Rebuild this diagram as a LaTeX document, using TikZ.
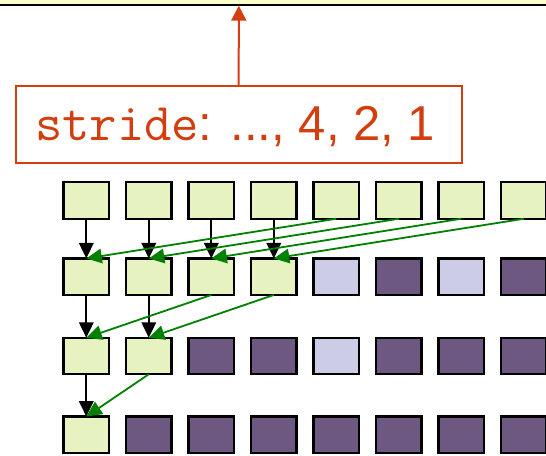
\documentclass[tikz,border=0pt]{standalone}
\usepackage{fontspec}
\setmainfont{Liberation Sans}
\usetikzlibrary{arrows.meta}

\definecolor{cellgreen}{RGB}{230,242,192}
\definecolor{celllight}{RGB}{204,204,230}
\definecolor{celldark}{RGB}{108,88,128}
\definecolor{bandyellow}{RGB}{255,255,204}
\definecolor{notered}{RGB}{210,62,14}
\definecolor{flowgreen}{RGB}{0,128,0}

\tikzset{
  cell/.style={draw=black, line width=2.2pt, minimum width=45.5pt, minimum height=36.5pt,
               inner sep=0pt, outer sep=0pt},
  live/.style={cell, fill=cellgreen},
  idle/.style={cell, fill=celllight},
  done/.style={cell, fill=celldark},
  keep/.style={draw=black, line width=2pt, -{Triangle[length=15.5pt, width=14.5pt]}},
  fold/.style={draw=flowgreen, line width=1.8pt, -{Triangle[length=15.5pt, width=14.5pt]}},
  notebox/.style={draw=notered, line width=2pt, minimum width=446pt,
               minimum height=77pt, inner sep=0pt},
  notetext/.style={text=notered, inner sep=0pt, font=\fontsize{49}{52}\selectfont},
  notearrow/.style={draw=notered, line width=2pt, -{Triangle[length=15pt, width=15pt]}}
}

\begin{document}
\begin{tikzpicture}[x=1pt, y=-1pt]
  \useasboundingbox (0,0) rectangle (546,455);
  \clip (0,0) rectangle (546,455);

  % band along the top edge
  \fill[bandyellow] (-2,-2) rectangle (548,4.8);
  \draw[line width=1.8pt] (-2,4.8) -- (548,4.8);
  \coordinate (band) at (238.8,5.7);

  % stride note
  \node[notebox] (stride) at (238.7,124.7) {};
  \node[notetext, anchor=base west] (stridetext) at (35,140.5)
    {{\fontsize{53}{55}\selectfont\ttfamily stride}: ..., 4, 2, 1};
  \draw[notearrow] (stride.north) -- (band);

  % rows of cells
  \foreach \i in {0,...,7} {
    \node[live] (a\i) at (86.3+62.5*\i,200.5) {};
  }
  \foreach \i/\s in {0/live,1/live,2/live,3/live,4/idle,5/done,6/idle,7/done} {
    \node[\s] (b\i) at (86.3+62.5*\i,276.7) {};
  }
  \foreach \i/\s in {0/live,1/live,2/done,3/done,4/idle,5/done,6/done,7/done} {
    \node[\s] (c\i) at (86.3+62.5*\i,356) {};
  }
  \foreach \i/\s in {0/live,1/done,2/done,3/done,4/done,5/done,6/done,7/done} {
    \node[\s] (d\i) at (86.3+62.5*\i,434.8) {};
  }

  % stride 4
  \foreach \i in {0,...,3} {
    \draw[keep] (a\i.south) -- (b\i.north);
  }
  \foreach \i/\j in {0/4,1/5,2/6,3/7} {
    \draw[fold] (a\j.south) -- (b\i.north);
  }

  % stride 2
  \foreach \i in {0,1} {
    \draw[keep] (b\i.south) -- (c\i.north);
  }
  \foreach \i/\j in {0/2,1/3} {
    \draw[fold] (b\j.south) -- (c\i.north);
  }

  % stride 1
  \draw[keep] (c0.south) -- (d0.north);
  \draw[fold] (c1.south) -- (d0.north);
\end{tikzpicture}
\end{document}
